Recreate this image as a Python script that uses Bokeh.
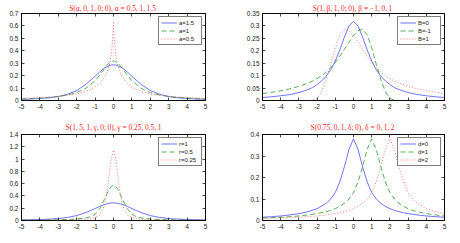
from bokeh.plotting import figure
from bokeh.layouts import gridplot
from bokeh.models import Range1d, FixedTicker, LinearAxis, CustomLabelingPolicy
from bokeh.embed import file_html
from bokeh.resources import INLINE

# ---------------- data ----------------
x_ticks = [-5, -4, -3, -2, -1, 0, 1, 2, 3, 4, 5]
x_tick_labels = ["-5", "-4", "-3", "-2", "-1", "0", "1", "2", "3", "4", "5"]

# Panel 1: S(alpha,0,1,0;0)
x1 = [-5, -4.5, -4, -3.5, -3, -2.5, -2, -1.5, -1, -0.75, -0.5, -0.3, -0.2, -0.1, -0.05, 0,
      0.05, 0.1, 0.2, 0.3, 0.5, 0.75, 1, 1.5, 2, 2.5, 3, 3.5, 4, 4.5, 5]
a15 = [0.010, 0.012, 0.016, 0.022, 0.032, 0.050, 0.080, 0.130, 0.195, 0.230, 0.260, 0.276, 0.282, 0.286, 0.287, 0.287,
       0.287, 0.286, 0.282, 0.276, 0.260, 0.230, 0.195, 0.130, 0.080, 0.050, 0.032, 0.022, 0.016, 0.012, 0.010]
a10 = [0.012, 0.015, 0.019, 0.024, 0.032, 0.044, 0.064, 0.098, 0.159, 0.204, 0.255, 0.292, 0.306, 0.315, 0.317, 0.318,
       0.317, 0.315, 0.306, 0.292, 0.255, 0.204, 0.159, 0.098, 0.064, 0.044, 0.032, 0.024, 0.019, 0.015, 0.012]
a05 = [0.018, 0.020, 0.024, 0.028, 0.034, 0.042, 0.053, 0.072, 0.108, 0.138, 0.185, 0.245, 0.300, 0.400, 0.490, 0.637,
       0.490, 0.400, 0.300, 0.245, 0.185, 0.138, 0.108, 0.072, 0.053, 0.042, 0.034, 0.028, 0.024, 0.020, 0.018]
y1_ticks = [0, 0.1, 0.2, 0.3, 0.4, 0.5, 0.6, 0.7]
y1_labels = ["0", "0.1", "0.2", "0.3", "0.4", "0.5", "0.6", "0.7"]

# Panel 2: S(1,beta,1,0;0)
x2 = [-5, -4.5, -4, -3.5, -3, -2.5, -2.25, -2, -1.75, -1.5, -1.25, -1, -0.75, -0.5, -0.25, 0,
      0.25, 0.5, 0.75, 1, 1.25, 1.5, 1.75, 2, 2.25, 2.5, 3, 3.5, 4, 4.5, 5]
b0 = [0.012, 0.015, 0.019, 0.024, 0.032, 0.044, 0.052, 0.064, 0.079, 0.098, 0.124, 0.159, 0.204, 0.255, 0.300, 0.318,
      0.300, 0.255, 0.204, 0.159, 0.124, 0.098, 0.079, 0.064, 0.052, 0.044, 0.032, 0.024, 0.019, 0.015, 0.012]
bm1 = [0.028, 0.033, 0.039, 0.047, 0.057, 0.070, 0.078, 0.088, 0.100, 0.114, 0.132, 0.153, 0.178, 0.205, 0.235, 0.262,
       0.281, 0.286, 0.265, 0.212, 0.146, 0.084, 0.036, 0.008, 0.001, 0.0, 0.0, 0.0, 0.0, 0.0, 0.0]
bp1 = [0.0, 0.0, 0.0, 0.0, 0.0, 0.0, 0.001, 0.008, 0.036, 0.084, 0.146, 0.212, 0.265, 0.286, 0.281, 0.262,
       0.235, 0.205, 0.178, 0.153, 0.132, 0.114, 0.100, 0.088, 0.078, 0.070, 0.057, 0.047, 0.039, 0.033, 0.028]
y2_ticks = [0, 0.05, 0.1, 0.15, 0.2, 0.25, 0.3, 0.35]
y2_labels = ["0", "0.05", "0.1", "0.15", "0.2", "0.25", "0.3", "0.35"]

# Panel 3: scale gamma
x3 = [-5, -4.5, -4, -3.5, -3, -2.5, -2, -1.5, -1.25, -1, -0.75, -0.5, -0.375, -0.25, -0.125, 0,
      0.125, 0.25, 0.375, 0.5, 0.75, 1, 1.25, 1.5, 2, 2.5, 3, 3.5, 4, 4.5, 5]
g1 = [0.010, 0.012, 0.016, 0.022, 0.032, 0.050, 0.080, 0.130, 0.162, 0.195, 0.230, 0.260, 0.270, 0.279, 0.285, 0.287,
      0.285, 0.279, 0.270, 0.260, 0.230, 0.195, 0.162, 0.130, 0.080, 0.050, 0.032, 0.022, 0.016, 0.012, 0.010]
g05 = [0.005, 0.006, 0.007, 0.009, 0.011, 0.016, 0.024, 0.042, 0.060, 0.100, 0.190, 0.340, 0.420, 0.500, 0.555, 0.574,
       0.555, 0.500, 0.420, 0.340, 0.190, 0.100, 0.060, 0.042, 0.024, 0.016, 0.011, 0.009, 0.007, 0.006, 0.005]
g025 = [0.0025, 0.003, 0.004, 0.005, 0.006, 0.009, 0.013, 0.023, 0.032, 0.048, 0.090, 0.240, 0.420, 0.700, 1.000, 1.148,
        1.000, 0.700, 0.420, 0.240, 0.090, 0.048, 0.032, 0.023, 0.013, 0.009, 0.006, 0.005, 0.004, 0.003, 0.0025]
y3_ticks = [0, 0.2, 0.4, 0.6, 0.8, 1.0, 1.2, 1.4]
y3_labels = ["0", "0.2", "0.4", "0.6", "0.8", "1", "1.2", "1.4"]

# Panel 4: location delta
x4 = [-5, -4.5, -4, -3.5, -3, -2.5, -2, -1.5, -1.25, -1, -0.75, -0.5, -0.25, 0, 0.25, 0.5,
      0.75, 1, 1.25, 1.5, 1.75, 2, 2.25, 2.5, 2.75, 3, 3.25, 3.5, 4, 4.5, 5]
d0 = [0.015, 0.018, 0.021, 0.026, 0.032, 0.041, 0.055, 0.080, 0.100, 0.130, 0.180, 0.250, 0.330, 0.380, 0.330, 0.250,
      0.180, 0.130, 0.100, 0.080, 0.066, 0.055, 0.047, 0.041, 0.036, 0.032, 0.029, 0.026, 0.021, 0.018, 0.015]
d1 = [0.012, 0.013, 0.015, 0.018, 0.021, 0.026, 0.032, 0.041, 0.047, 0.055, 0.066, 0.080, 0.100, 0.130, 0.180, 0.250,
      0.330, 0.380, 0.330, 0.250, 0.180, 0.130, 0.100, 0.080, 0.066, 0.055, 0.047, 0.041, 0.032, 0.026, 0.021]
d2 = [0.0095, 0.011, 0.012, 0.013, 0.015, 0.018, 0.021, 0.026, 0.029, 0.032, 0.036, 0.041, 0.047, 0.055, 0.066, 0.080,
      0.100, 0.130, 0.180, 0.250, 0.330, 0.380, 0.330, 0.250, 0.180, 0.130, 0.100, 0.080, 0.055, 0.041, 0.032]
y4_ticks = [0, 0.1, 0.2, 0.3, 0.4]
y4_labels = ["0", "0.1", "0.2", "0.3", "0.4"]

T = "\u2009"
titles = [f"S(α,{T}0,{T}1,{T}0;{T}0),  α = 0.5,{T}1,{T}1.5",
          f"S(1,{T}β,{T}1,{T}0;{T}0),  β = −1,{T}0,{T}1",
          f"S(1,{T}5,{T}1,{T}γ,{T}0;{T}0),{T}γ = 0.25,{T}0.5,{T}1",
          f"S(0.75,{T}0,{T}1,{T}δ;{T}0),  δ = 0,{T}1,{T}2"]
legend1 = ["a=1.5", "a=1", "a=0.5"]
legend2 = ["B=0", "B=-1", "B=1"]
legend3 = ["r=1", "r=0.5", "r=0.25"]
legend4 = ["d=0", "d=1", "d=2"]

# ---------------- styles ----------------
COLORS = ["#4f4fff", "#2f9a2f", "#ff4f4f"]
DASHES = ["solid", "5 3", "1 2"]
TICK_FONT = "Liberation Sans"


def style_axis(ax, ticks, labels, show_labels=True):
    ax.ticker = FixedTicker(ticks=ticks)
    ax.major_tick_in = 3
    ax.major_tick_out = 0
    ax.minor_tick_line_color = None
    ax.axis_line_color = "black"
    ax.axis_line_width = 0.8
    ax.major_tick_line_color = "black"
    ax.major_tick_line_width = 0.7
    ax.major_label_text_font = TICK_FONT
    ax.major_label_text_color = "#222222"
    if show_labels:
        ax.major_label_overrides = {t: l for t, l in zip(ticks, labels)}
        ax.major_label_text_font_size = "6.5px"
        ax.major_label_standoff = 3
    else:
        # mirrored box axis: ticks only, no labels, no reserved space
        ax.major_label_policy = CustomLabelingPolicy(
            code="return new indices.constructor(indices.size, 0)")
        ax.major_label_text_font_size = "0px"
        ax.major_label_standoff = 0


def panel(title, xs, ys_list, labels, ymax, yticks, ylabels, w, h, bl, br, bt, bb, tstand):
    p = figure(width=w, height=h,
               min_border_left=bl, min_border_right=br, min_border_top=bt, min_border_bottom=bb,
               x_range=Range1d(-5, 5), y_range=Range1d(0, ymax),
               output_backend="svg", toolbar_location=None)
    p.grid.visible = False
    p.outline_line_color = "black"
    p.outline_line_width = 0.8
    p.background_fill_color = "white"
    p.border_fill_color = "white"

    p.title.text = title
    p.title.align = "center"
    p.title.text_font = "Liberation Serif"
    p.title.text_font_size = "7.5px"
    p.title.text_font_style = "normal"
    p.title.text_color = "#ff2a2a"
    p.title.standoff = tstand
    p.title.offset = 0

    style_axis(p.xaxis[0], x_ticks, x_tick_labels)
    style_axis(p.yaxis[0], yticks, ylabels)
    top = LinearAxis()
    style_axis(top, x_ticks, x_tick_labels, show_labels=False)
    right = LinearAxis()
    style_axis(right, yticks, ylabels, show_labels=False)
    p.add_layout(top, "above")
    p.add_layout(right, "right")

    for ys, lab, col, dash in zip(ys_list, labels, COLORS, DASHES):
        p.line(xs, ys, line_color=col, line_width=0.8, line_dash=dash, legend_label=lab)

    lg = p.legend[0]
    lg.location = "top_right"
    lg.border_line_color = "black"
    lg.border_line_width = 0.8
    lg.background_fill_color = "white"
    lg.background_fill_alpha = 1.0
    lg.label_text_font = TICK_FONT
    lg.label_text_font_size = "6px"
    lg.label_text_color = "#222222"
    lg.label_height = 7
    lg.label_standoff = 2
    lg.glyph_width = 16
    lg.glyph_height = 7
    lg.spacing = 1
    lg.padding = 2
    lg.margin = 3
    return p


p1 = panel(titles[0], x1, [a15, a10, a05], legend1, 0.7, y1_ticks, y1_labels,
           230, 118, 21, 25, 13, 18, 1)
p2 = panel(titles[1], x2, [b0, bm1, bp1], legend2, 0.35, y2_ticks, y2_labels,
           230, 118, 32, 16, 13, 18, 1)
p3 = panel(titles[2], x3, [g1, g05, g025], legend3, 1.4, y3_ticks, y3_labels,
           230, 125, 21, 25, 16, 23, 5)
p4 = panel(titles[3], x4, [d0, d1, d2], legend4, 0.4, y4_ticks, y4_labels,
           230, 125, 32, 16, 16, 23, 5)

layout = gridplot([[p1, p2], [p3, p4]], toolbar_location=None)

open("out.html", "w").write(file_html(layout, INLINE))
